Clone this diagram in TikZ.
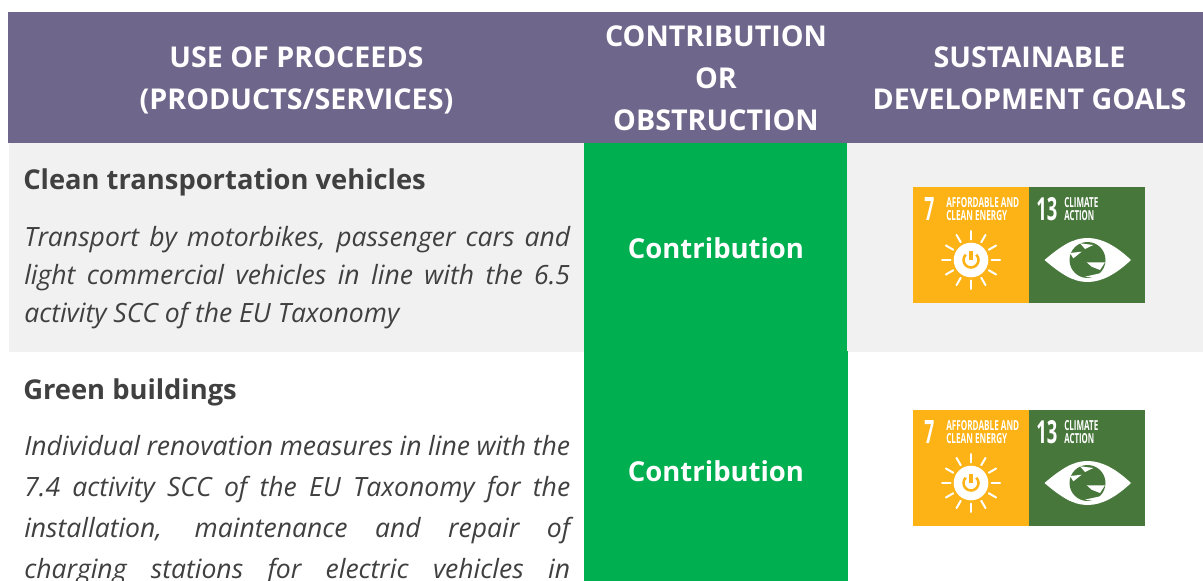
\documentclass[tikz,border=0pt]{standalone}
\usepackage{fontspec}
\usepackage{graphicx}
\setmainfont{Open Sans}
\definecolor{headpurple}{HTML}{6F668B}
\definecolor{rowgrey}{HTML}{F1F1F1}
\definecolor{cellgreen}{HTML}{00AF50}
\definecolor{bodytext}{HTML}{404040}
\definecolor{sdgyellow}{HTML}{FDB316}
\definecolor{sdggreen}{HTML}{48773C}
\newlength{\pxu}\setlength{\pxu}{0.75pt}
\newcommand{\capsfit}[3]{\resizebox{#1\pxu}{#2\pxu}{\textbf{#3}}}
\newcommand{\headfont}{\fontsize{21.5}{31.5}\selectfont\bfseries}
\newcommand{\titlefont}{\fontsize{20.5}{26}\selectfont\bfseries}
\newcommand{\cellfont}{\fontsize{20.6}{26}\selectfont\bfseries}
\tikzset{
  x=0.75pt,y=-0.75pt,
  band/.style={fill=#1,draw=none},
  headtext/.style={text=white,align=center,inner sep=0pt,font=\headfont},
  titletext/.style={text=bodytext,anchor=base west,inner sep=0pt,font=\titlefont},
  bodyblock/.style={text=bodytext,anchor=north west,inner sep=0pt,text width=409.5pt,align=justify},
  celltext/.style={text=white,inner sep=0pt,font=\cellfont},
  tiny/.style={text=white,inner sep=0pt,anchor=north west},
  tinylines/.style={tiny,align=left,font=\fontsize{8}{10.1}\selectfont},
  pics/sdgpair/.style={code={
    \fill[sdgyellow] (0,0) rectangle (116,116);
    \fill[sdggreen] (116,0) rectangle (232,116);
    % goal 7 text
    \node[tiny] at (11,10) {\capsfit{10}{23}{7}};
    \node[tinylines] at (33,10) {\capsfit{73}{10}{AFFORDABLE AND}\\\capsfit{61}{10}{CLEAN ENERGY}};
    % sun
    \foreach \a in {0,30,...,330}
      \draw[white,line width=1.5pt,line cap=round] (58,73)+(\a:20.5) -- +(\a:29);
    \fill[white] (58,73) circle (17.3);
    \draw[sdgyellow,line width=1.9pt] (58,73)+(-45:7.5) arc (-45:225:7.5);
    \draw[sdgyellow,line width=2.4pt] (58,64) -- (58,73);
    % goal 13 text
    \node[tiny] at (123,10) {\capsfit{21}{23}{13}};
    \node[tinylines] at (151,10) {\capsfit{34}{10}{CLIMATE}\\\capsfit{30}{10}{ACTION}};
    % eye
    \fill[white] (131.5,73) .. controls (148,59) and (160,51) .. (174.5,51)
       .. controls (189,51) and (203,59) .. (218,73)
       .. controls (203,87) and (189,95) .. (174.5,95)
       .. controls (160,95) and (148,87) .. (131.5,73) -- cycle;
    \fill[sdggreen] (174.5,73) circle (18);
    \fill[white] (157,66) -- (168.7,64.7) -- (160.3,71.3) -- cycle;
    \fill[white] (167,56.3) -- (180.3,58) -- (172,62) -- cycle;
    \fill[white] (173.7,75.3) -- (192,75.3) -- (187,83) -- (178.7,79.7) -- cycle;
    \fill[white] (172,89.7) -- (187,86.3) -- (183.7,91.3) -- cycle;
  }}
}
\begin{document}
\begin{tikzpicture}
\useasboundingbox (0,0) rectangle (1203,581);
\fill[white] (0,0) rectangle (1203,581);
% bands
\fill[band=headpurple] (8,12) rectangle (1203,143);
\fill[band=rowgrey] (9,143) rectangle (1203,352);
\fill[band=cellgreen] (584,143) rectangle (847,351);
\fill[band=cellgreen] (584,351) rectangle (848,581);
% header
\node[headtext] (headA) at (296.5,80) {USE OF PROCEEDS\\(PRODUCTS/SERVICES)};
\node[headtext] (headB) at (716,78) {CONTRIBUTION\\OR\\OBSTRUCTION};
\node[headtext] (headC) at (1029.5,78) {SUSTAINABLE\\DEVELOPMENT GOALS};
% row 1
\node[titletext] (titleA) at (23,190) {Clean transportation vehicles};
\node[bodyblock,font=\fontsize{19.9}{28.5}\selectfont\itshape] (bodyA) at (24,226) {\tolerance=10000
Transport by motorbikes, passenger cars and\break
light commercial vehicles in line with the 6.5\break
activity SCC of the EU Taxonomy};
\node[celltext] (cellA) at (716,248) {Contribution};
\pic at (913,187) {sdgpair};
% row 2
\node[titletext] (titleB) at (23,399) {Green buildings};
\node[bodyblock,font=\fontsize{19.9}{30.75}\selectfont\itshape] (bodyB) at (24,435) {\tolerance=10000
Individual renovation measures in line with the\break
7.4 activity SCC of the EU Taxonomy for the\break
installation, maintenance and repair of\break
charging\hfill stations\hfill for\hfill electric\hfill vehicles\hfill in};
\node[celltext] (cellB) at (716,471) {Contribution};
\pic at (913,410) {sdgpair};
\end{tikzpicture}
\end{document}
